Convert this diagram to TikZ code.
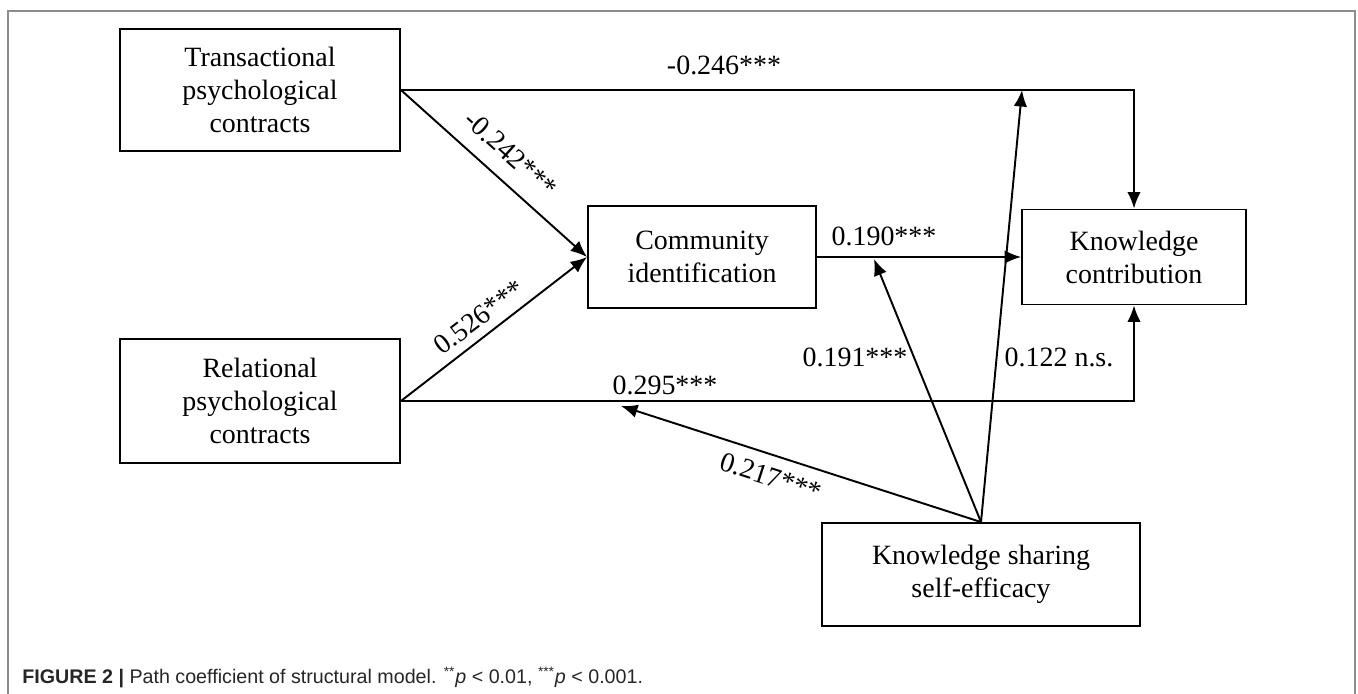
\documentclass[tikz,border=0pt]{standalone}
\usepackage{fontspec}
\setmainfont{Liberation Serif}
\newfontfamily\capfont{Liberation Sans}
\usetikzlibrary{arrows.meta}

\begin{document}
\begin{tikzpicture}[x=0.02cm,y=-0.02cm,
  box/.style={draw,line width=1.1pt,align=center,inner sep=0pt,
    font=\fontsize{15.9}{18.8}\selectfont},
  path/.style={line width=1.1pt,-{Latex[length=0.33cm,width=0.27cm]}},
  coef/.style={inner sep=0pt,font=\fontsize{15.9}{18.8}\selectfont}]

\useasboundingbox (0,0) rectangle (1358,693);
\draw[line width=0.85pt,black!45] (8,720) -- (8,11) -- (1355,11) -- (1355,720);

% constructs
\node[box,minimum width=5.6cm,minimum height=2.44cm] (tpc) at (260,90) {Transactional\\psychological\\contracts};
\node[box,minimum width=5.6cm,minimum height=2.48cm] (rpc) at (260,401) {Relational\\psychological\\contracts};
\node[box,minimum width=4.56cm,minimum height=2.04cm] (ci) at (702,257) {Community\\identification};
\node[box,minimum width=4.48cm,minimum height=1.9cm] (kc) at (1134,257) {Knowledge\\contribution};
\node[box,minimum width=6.36cm,minimum height=2.06cm] (ksse) at (981,574.5) {Knowledge sharing\\self-efficacy};

% direct paths
\draw[path] (tpc.east) -| (kc.north);
\draw[path] (rpc.east) -| (kc.south);
\draw[path] (tpc.east) -- (ci.west);
\draw[path] (rpc.east) -- (ci.west);
\draw[path] (ci.east) -- (kc.west);

% moderation
\coordinate (onrel) at (621,406);
\coordinate (onci) at (874,259);
\coordinate (ontop) at (1022,90);
\draw[path] (ksse.north) -- (onrel);
\draw[path] (ksse.north) -- (onci);
\draw[path] (ksse.north) -- (ontop);

\node[coef] (c1) at (724,65) {-0.246***};
\node[coef,rotate=-42] (c2) at (511,154) {-0.242***};
\node[coef,rotate=37] (c3) at (479,317) {0.526***};
\node[coef] (c4) at (884,236) {0.190***};
\node[coef] (c5) at (665,385) {0.295***};
\node[coef] (c6) at (855,357) {0.191***};
\node[coef] (c7) at (1059,357) {0.122 n.s.};
\node[coef,rotate=-18] (c8) at (771,477) {0.217***};

\node[anchor=west,inner sep=0pt,text=black!85,font=\capfont\fontsize{11.2}{13}\selectfont] (cap) at (22,677)
  {\textbf{FIGURE 2 |} Path coefficient of structural model. \textsuperscript{**}\textit{p} < 0.01, \textsuperscript{***}\textit{p} < 0.001.};

\end{tikzpicture}
\end{document}
